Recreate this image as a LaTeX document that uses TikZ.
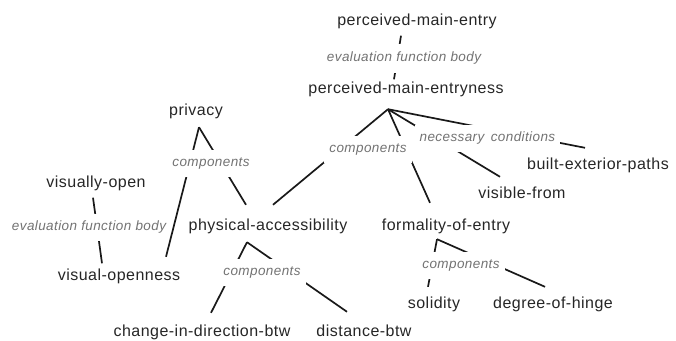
\documentclass[tikz,border=0pt]{standalone}
\usepackage{fontspec}
\setmainfont{Liberation Sans}[LetterSpace=3]

\begin{document}
\begin{tikzpicture}[x=1pt, y=-1pt,
    concept/.style={text=black!85, font=\fontsize{16}{18}\selectfont,
        inner xsep=2pt, inner ysep=6pt, text height=11pt, text depth=4pt},
    role/.style={text=black!55, fill=white, font=\fontsize{13.5}{16}\selectfont\itshape,
        inner xsep=5pt, inner ysep=7pt, text height=10pt, text depth=3pt},
    evalrole/.style={role, inner xsep=1pt},
    rel/.style={black!90, line width=1.7pt}]
% 1. 画布大小
\useasboundingbox (0,0) rectangle (676,340);

% 2. 概念节点
\node[concept] (pme) at (417,22) {perceived-main-entry};
\node[concept] (pmen) at (406,90) {perceived-main-entryness};
\node[concept] (bep) at (598,166) {built-exterior-paths};
\node[concept] (vf) at (522,195) {visible-from};
\node[concept] (fe) at (446,227) {formality-of-entry};
\node[concept] (sol) at (434,305) {solidity};
\node[concept] (doh) at (553,305) {degree-of-hinge};
\node[concept] (priv) at (196,112) {privacy};
\node[concept] (vopen) at (96,184) {visually-open};
\node[concept] (pa) at (268,227) {physical-accessibility};
\node[concept] (vo) at (119,277) {visual-openness};
\node[concept] (cid) at (202,333) {change-in-direction-btw};
\node[concept] (dist) at (364,333) {distance-btw};

% 3. 分叉点
\coordinate (pmenroot) at ([shift={(-18,5.5)}]pmen.south);
\coordinate (privroot) at ([shift={(3,1.5)}]priv.south);
\coordinate (paroot) at ([shift={(-21,1.5)}]pa.south);
\coordinate (feroot) at ([shift={(-9,-1.5)}]fe.south);

% 4. 连线 (标签后画, 白底盖住中段)
\draw[rel] ([xshift=-16]pme.south) -- ([shift={(-12,3)}]pmen.north);
\draw[rel] ([xshift=-3]vopen.south) -- ([xshift=-17]vo.north);
\draw[rel] (pmenroot) -- ([shift={(5,-8.5)}]pa.north);
\draw[rel] (pmenroot) -- ([shift={(-16,-10.5)}]fe.north);
\draw[rel] (pmenroot) -- ([shift={(-22,-4.5)}]vf.north);
\draw[rel] (pmenroot) -- ([shift={(-13,-4.5)}]bep.north);
\draw[rel] (privroot) -- ([shift={(47,-6.5)}]vo.north);
\draw[rel] (privroot) -- ([shift={(-22,-8.5)}]pa.north);
\draw[rel] (paroot) -- ([shift={(9,-6.5)}]cid.north);
\draw[rel] (paroot) -- ([shift={(-17,-7.5)}]dist.north);
\draw[rel] (feroot) -- ([shift={(-6,-4.5)}]sol.north);
\draw[rel] (feroot) -- ([shift={(-8,-4.5)}]doh.north);

% 5. 关系标签
\node[evalrole, inner ysep=8pt] (efb1) at (404,58) {evaluation function body};
\node[evalrole] (efb2) at (89,227) {evaluation function body};
\node[role] (comp1) at (368,149) {components};
\node[role] (nec) at (452,138) {necessary};
\node[role] (cond) at (523,138) {conditions};
\node[role] (comp2) at (211,163) {components};
\node[role] (comp4) at (262,272) {components};
\node[role] (comp3) at (461,265) {components};
\end{tikzpicture}
\end{document}
